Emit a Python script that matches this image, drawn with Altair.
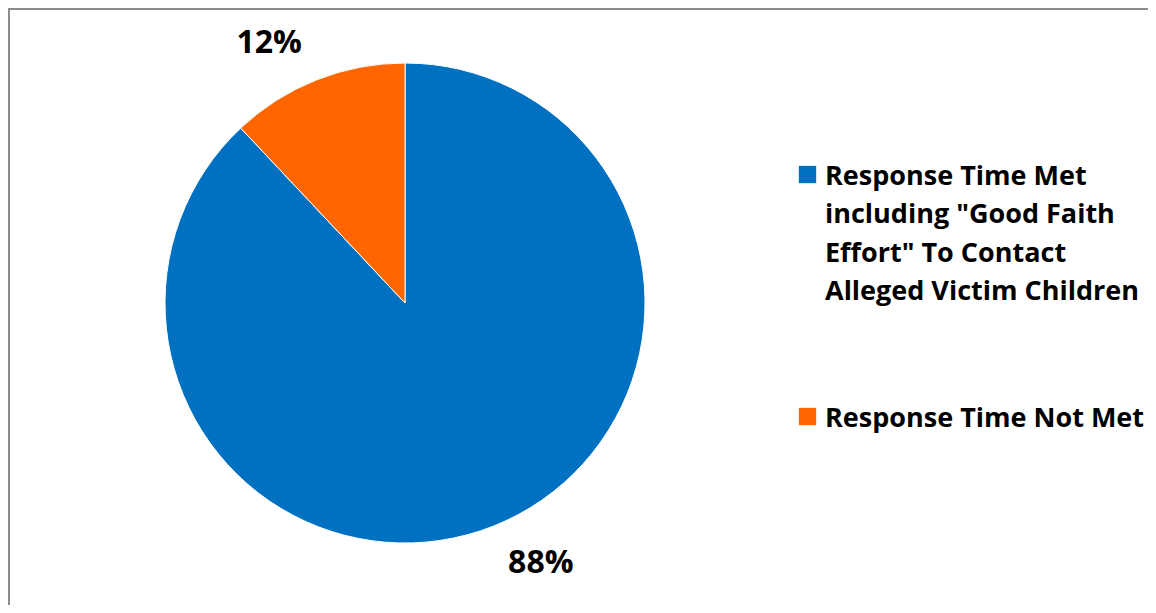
import altair as alt
import pandas as pd

# ---- data ----
categories = [
    'Response Time Met including "Good Faith Effort" To Contact Alleged Victim Children',
    "Response Time Not Met",
]
values = [88, 12]
slice_order = [0, 1]
colors = ["#0070C0", "#FF6600"]
legend_lines = [
    ["Response Time Met", 'including "Good Faith', 'Effort" To Contact', "Alleged Victim Children"],
    ["Response Time Not Met"],
]

df = pd.DataFrame({"category": categories, "value": values, "order": slice_order})
df["label"] = df["value"].astype(str) + "%"

label_expr = (
    "datum.label === '" + categories[0] + "' ? ["
    + ",".join("'" + s + "'" for s in legend_lines[0])
    + "] : datum.label"
)

CX, CY, R = 397, 295, 240
FONT = "Open Sans"

base = alt.Chart(df).encode(
    theta=alt.Theta("value:Q", stack=True),
    order=alt.Order("order:Q"),
)

pie = base.mark_arc(outerRadius=R, stroke="white", strokeWidth=1).encode(
    x=alt.value(CX),
    y=alt.value(CY),
    color=alt.Color(
        "category:N",
        scale=alt.Scale(domain=categories, range=colors),
        legend=alt.Legend(
            title=None,
            orient="none",
            legendX=786,
            legendY=153,
            padding=0,
            symbolType="square",
            symbolSize=300,
            symbolStrokeWidth=0,
            labelFont=FONT,
            labelFontSize=27,
            labelFontWeight="bold",
            labelColor="black",
            labelLimit=600,
            labelOffset=4,
            labelBaseline="alphabetic",
            labelExpr=label_expr,
            rowPadding=98,
        ),
    ),
)

text = base.mark_text(
    radius=293,
    thetaOffset=-0.105,
    font=FONT,
    fontSize=32,
    fontWeight="bold",
    align="center",
    baseline="middle",
).encode(
    x=alt.value(CX),
    y=alt.value(CY),
    text=alt.Text("label:N"),
    color=alt.value("black"),
)

top_border = base.mark_rule(color="#8c8c8c", strokeWidth=2).encode(
    x=alt.value(0), x2=alt.value(1140), y=alt.value(1)
)
left_border = base.mark_rule(color="#8c8c8c", strokeWidth=2).encode(
    x=alt.value(1), y=alt.value(0), y2=alt.value(597)
)

chart = (
    alt.layer(top_border, left_border, pie, text)
    .properties(width=1140, height=597, autosize="none", padding=0, background="white")
    .configure_view(stroke=None)
    .configure(style={"guide-label": {"lineHeight": 38.5, "dy": 10}})
)

chart.save("out.html", embed_options={"renderer": "svg", "actions": False})
